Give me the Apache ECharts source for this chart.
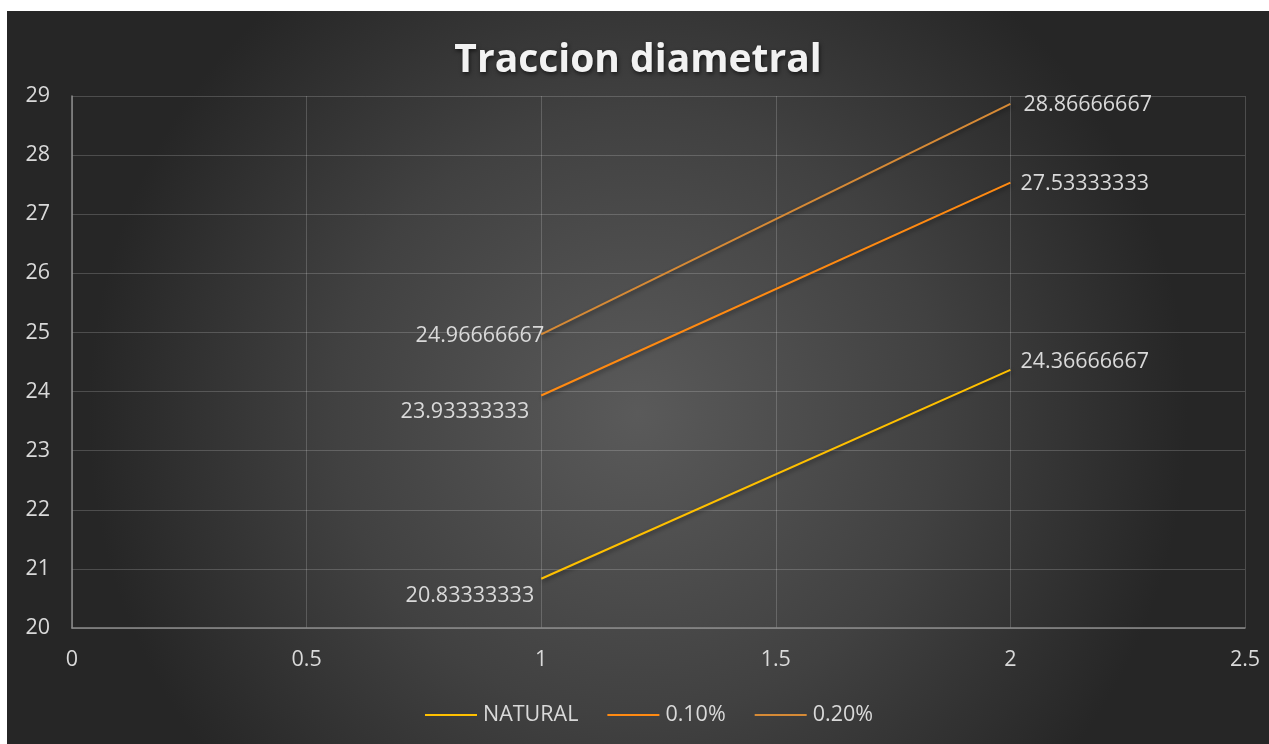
<!DOCTYPE html>
<html>
<head>
<meta charset="utf-8">
<script src="https://cdn.jsdelivr.net/npm/echarts@6/dist/echarts.min.js"></script>
<style>
  html, body { margin: 0; padding: 0; background: #ffffff; width: 1269px; height: 744px; overflow: hidden; }
  #chart { position: absolute; left: 7px; top: 11px; width: 1262px; height: 733px; }
</style>
</head>
<body>
<div id="chart"></div>
<script>
// Ensayo de tracción diametral
const titleText = 'Traccion diametral';
const xValues = [1, 2];
const seriesNames = ['NATURAL', '0.10%', '0.20%'];
const naturalValues = [20.83333333, 24.36666667];
const fiber010Values = [23.93333333, 27.53333333];
const fiber020Values = [24.96666667, 28.86666667];
const seriesColors = ['#FFC000', '#FF8A12', '#D68A36'];

const yMin = 20, yMax = 29, yStep = 1;
const xMin = 0, xMax = 2.5, xStep = 0.5;

const textFont = { color: '#D9D9D9', fontSize: 21.5, fontFamily: 'Open Sans' };

function pts(values) {
  return values.map((v, i) => [xValues[i], v]);
}

// label placement per point: start of each line labelled to the left, end to the right
const labelPlacement = [
  [{ position: 'left', offset: [-2, 17] }, { position: 'right', offset: [5, -8] }],
  [{ position: 'left', offset: [-7, 16] }, { position: 'right', offset: [5, 1] }],
  [{ position: 'left', offset: [8, 1] }, { position: 'right', offset: [8, 1] }]
];

const allValues = [naturalValues, fiber010Values, fiber020Values];

const series = allValues.map((vals, si) => ({
  name: seriesNames[si],
  type: 'line',
  symbol: 'circle',
  symbolSize: 0,
  showSymbol: true,
  animation: false,
  lineStyle: {
    color: seriesColors[si],
    width: 2,
    shadowColor: 'rgba(0,0,0,0.45)',
    shadowBlur: 4,
    shadowOffsetX: 1,
    shadowOffsetY: 2
  },
  itemStyle: { color: seriesColors[si] },
  data: pts(vals).map((p, pi) => ({
    value: p,
    label: Object.assign({
      show: true,
      formatter: String(vals[pi])
    }, textFont, labelPlacement[si][pi])
  })),
  z: 3 + si
}));

const chart = echarts.init(document.getElementById('chart'), null, { renderer: 'canvas' });
chart.setOption({
  backgroundColor: {
    type: 'radial',
    x: 0.5, y: 0.55, r: 0.75,
    colorStops: [
      { offset: 0, color: '#5a5a5a' },
      { offset: 0.55, color: '#414141' },
      { offset: 1, color: '#262626' }
    ]
  },
  animation: false,
  title: {
    text: titleText,
    left: 'center',
    top: 25,
    textStyle: {
      color: '#F2F2F2',
      fontSize: 39,
      fontWeight: 'bold',
      fontFamily: 'Open Sans',
      textShadowColor: 'rgba(0,0,0,0.6)',
      textShadowBlur: 4,
      textShadowOffsetX: 1,
      textShadowOffsetY: 2
    }
  },
  legend: {
    bottom: 13,
    left: 413,
    itemWidth: 52,
    itemHeight: 2,
    itemGap: 29,
    icon: 'rect',
    data: seriesNames,
    textStyle: { color: '#D9D9D9', fontSize: 21.5, fontFamily: 'Open Sans', padding: [0, 0, 0, 1] }
  },
  grid: { left: 65, right: 24, top: 85, bottom: 116, containLabel: false },
  xAxis: {
    type: 'value',
    min: xMin, max: xMax, interval: xStep,
    axisLine: { show: true, lineStyle: { color: '#8C8C8C', width: 1.5 } },
    axisTick: { show: false },
    splitLine: { show: true, lineStyle: { color: 'rgba(255,255,255,0.18)', width: 1 } },
    axisLabel: { color: '#D9D9D9', fontSize: 21.5, fontFamily: 'Open Sans', margin: 21 }
  },
  yAxis: {
    type: 'value',
    min: yMin, max: yMax, interval: yStep,
    axisLine: { show: true, lineStyle: { color: '#8C8C8C', width: 1.5 } },
    axisTick: { show: false },
    splitLine: { show: true, lineStyle: { color: 'rgba(255,255,255,0.18)', width: 1 } },
    axisLabel: { color: '#D9D9D9', fontSize: 21.5, fontFamily: 'Open Sans', margin: 22 }
  },
  series: series
});
</script>
</body>
</html>
